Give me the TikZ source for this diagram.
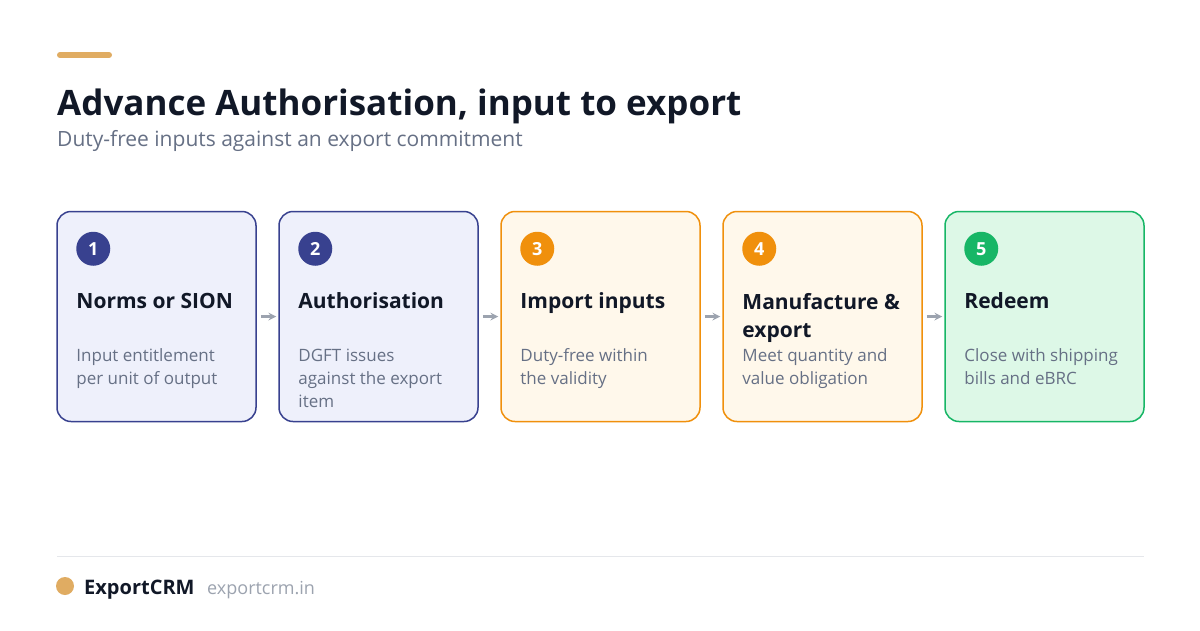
\documentclass[tikz,border=0pt]{standalone}
\usepackage{fontspec}
\setmainfont{Open Sans}
\usetikzlibrary{positioning}
\definecolor{ink}{HTML}{111827}
\definecolor{slate}{HTML}{667085}
\definecolor{muted}{HTML}{9CA3AF}
\definecolor{gold}{HTML}{E0AC62}
\definecolor{rulegray}{HTML}{E5E7EB}
\definecolor{navy}{HTML}{38418F}
\definecolor{navybg}{HTML}{EEF0FB}
\definecolor{amber}{HTML}{F0900C}
\definecolor{amberbg}{HTML}{FFF8EB}
\definecolor{leaf}{HTML}{17B666}
\definecolor{leafbg}{HTML}{DDF8E7}
\tikzset{
  card/.style={draw=#1, fill=#1bg, line width=1.5pt, rounded corners=14pt,
    minimum width=199pt, minimum height=210pt},
  badge/.style={circle, fill=#1, text=white, minimum size=34pt, inner sep=0pt,
    font=\bfseries\fontsize{18}{18}\selectfont},
  head/.style={anchor=north west, align=left, text=ink, inner sep=0pt,
    font=\bfseries\fontsize{21}{28}\selectfont},
  desc/.style={anchor=north west, align=left, text=slate, inner sep=0pt,
    font=\fontsize{17}{23}\selectfont},
  flow/.style={-stealth, muted, line width=2.4pt, shorten <=4pt, shorten >=2pt}
}
\begin{document}
\begin{tikzpicture}[x=1pt,y=-1pt]
  \useasboundingbox[fill=white] (0,0) rectangle (1200,630);
  % header
  \draw[gold, line width=6pt, line cap=round] (60,55) -- (109,55);
  \node[anchor=base west, inner sep=0pt, text=ink, font=\bfseries\fontsize{35}{40}\selectfont]
    (title) at (57,115) {Advance Authorisation, input to export};
  \node[anchor=base west, inner sep=0pt, text=slate, font=\fontsize{21}{24}\selectfont]
    (subtitle) at (57,146) {Duty-free inputs against an export commitment};
  % steps
  \foreach \i/\col/\hd/\ds in {
      1/navy/{Norms or SION}/{Input entitlement\\per unit of output},
      2/navy/{Authorisation}/{DGFT issues\\against the export\\item},
      3/amber/{Import inputs}/{Duty-free within\\the validity},
      4/amber/{Manufacture \&\\export}/{Meet quantity and\\value obligation},
      5/leaf/{Redeem}/{Close with shipping\\bills and eBRC}} {
    \node[card=\col] (c\i) at ({156.5+222*(\i-1)},316.5) {};
    \node[badge=\col] (b\i) at ([xshift=37pt,yshift=-38pt]c\i.north west) {\i};
    \node[head] (h\i) at ([xshift=20pt,yshift=-82pt]c\i.north west) {\hd};
    \node[desc] (d\i) at ([xshift=20pt,yshift=-138pt]c\i.north west) {\ds};
  }
  \foreach \a/\b in {1/2,2/3,3/4,4/5}
    \draw[flow] (c\a) -- (c\b);
  % footer
  \draw[rulegray, line width=1pt] (57,556) -- (1144,556);
  \fill[gold] (65,586) circle (9);
  \node[anchor=base west, inner sep=0pt, text=ink, font=\bfseries\fontsize{20}{22}\selectfont]
    (brand) at (84,594) {ExportCRM};
  \node[anchor=base west, inner sep=0pt, text=muted, font=\fontsize{18}{20}\selectfont]
    (site) at (207,594) {exportcrm.in};
\end{tikzpicture}
\end{document}
